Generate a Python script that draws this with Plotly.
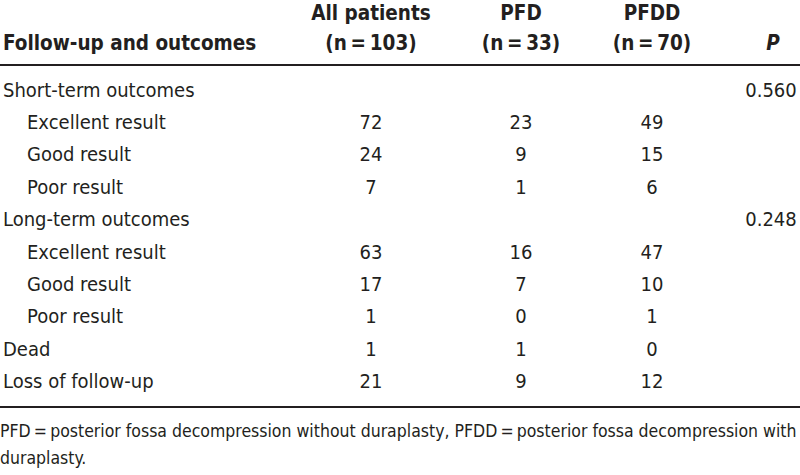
import plotly.graph_objects as go

row_labels = ["Short-term outcomes", "Excellent result", "Good result", "Poor result",
              "Long-term outcomes", "Excellent result", "Good result", "Poor result",
              "Dead", "Loss of follow-up"]
row_indent = [0, 1, 1, 1, 0, 1, 1, 1, 0, 0]
all_patients = ["", "72", "24", "7", "", "63", "17", "1", "1", "21"]
pfd = ["", "23", "9", "1", "", "16", "7", "0", "1", "9"]
pfdd = ["", "49", "15", "6", "", "47", "10", "1", "0", "12"]
p_values = ["0.560", "", "", "", "0.248", "", "", "", "", ""]

header_line1 = ["", "All patients", "PFD", "PFDD", ""]
header_line2 = ["Follow-up and outcomes", "(n\u2009=\u2009103)", "(n\u2009=\u200933)", "(n\u2009=\u200970)", "<i>P</i>"]
footnote = ["PFD\u2009=\u2009posterior fossa decompression without duraplasty, PFDD\u2009=\u2009posterior fossa decompression with",
            "duraplasty."]

FONT = "DejaVu Sans Condensed"
COLOR = "#231f20"
FS = 20

W, H = 800, 475
col_x = [371, 521, 652]
p_x = 771
row_y0, row_dy = 91.5, 32.4
row_y = [row_y0 + i * row_dy for i in range(len(row_labels))]

fig = go.Figure()

def txt(x, y, text, pos, size=FS):
    fig.add_trace(go.Scatter(
        x=x, y=y, mode="text", text=text, textposition=pos, cliponaxis=False,
        textfont=dict(family=FONT, size=size, color=COLOR),
        hoverinfo="skip", showlegend=False))

txt([3 + 24 * ind for ind in row_indent], row_y, row_labels, "middle right")
for cx, vals in zip(col_x, [all_patients, pfd, pfdd]):
    txt([cx] * len(vals), row_y, vals, "middle center")
txt([p_x] * len(p_values), row_y, p_values, "middle center")

hx = [3] + col_x + [773]
hpos = ["middle right", "middle center", "middle center", "middle center", "middle center"]
for line, yy in [(header_line1, 15), (header_line2, 45)]:
    txt(hx, [yy] * len(hx), ["<b>" + t + "</b>" if t else "" for t in line], hpos, size=20.5)

txt([0, 0], [432.5, 459.5], footnote, "middle right", size=17.5)

for yy in [65, 407]:
    fig.add_shape(type="line", x0=0, x1=W, y0=yy, y1=yy, xref="x", yref="y",
                  line=dict(color=COLOR, width=2))

fig.update_xaxes(range=[0, W], visible=False, fixedrange=True)
fig.update_yaxes(range=[H, 0], visible=False, fixedrange=True)
fig.update_layout(width=W, height=H, margin=dict(l=0, r=0, t=0, b=0),
                  plot_bgcolor="white", paper_bgcolor="white")

fig.write_html("out.html", config={"displayModeBar": False},
               post_script="document.body.style.margin='0';document.body.style.overflow='hidden';")
